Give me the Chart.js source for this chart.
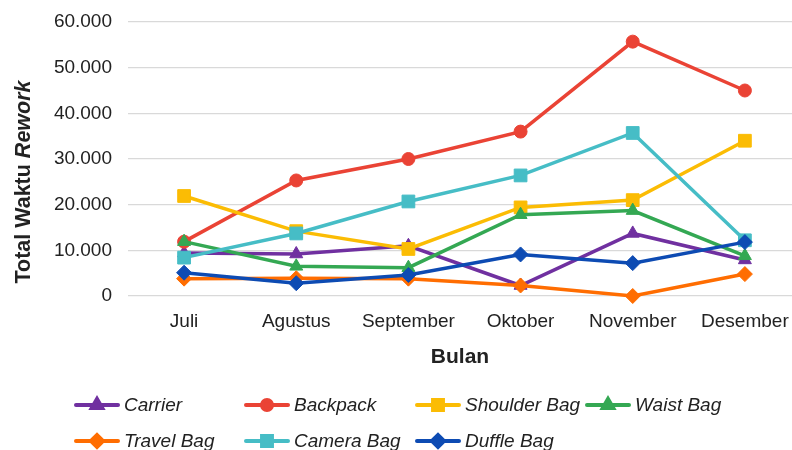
<!DOCTYPE html>
<html>
<head>
<meta charset="utf-8">
<script src="https://cdn.jsdelivr.net/npm/chart.js@4/dist/chart.umd.min.js"></script>
<style>
  html, body { margin: 0; padding: 0; background: #fff; overflow: hidden; }
</style>
</head>
<body>
<canvas id="rework" width="792" height="450"></canvas>
<script>
const bulan = ['Juli', 'Agustus', 'September', 'Oktober', 'November', 'Desember'];

const carrier = [9400, 9200, 11000, 2300, 13700, 7900];
const backpack = [11900, 25300, 30000, 36000, 55700, 45000];
const shoulderBag = [21900, 14200, 10300, 19400, 21000, 34000];
const waistBag = [11900, 6500, 6200, 17800, 18700, 8800];
const travelBag = [3800, 3900, 3800, 2300, 0, 4800];
const cameraBag = [8400, 13700, 20700, 26400, 35700, 12200];
const duffleBag = [5100, 2800, 4600, 9100, 7200, 11800];

const seriesNames = ['Carrier', 'Backpack', 'Shoulder Bag', 'Waist Bag', 'Travel Bag', 'Camera Bag', 'Duffle Bag'];
const seriesValues = [carrier, backpack, shoulderBag, waistBag, travelBag, cameraBag, duffleBag];
const yTicks = [0, 10000, 20000, 30000, 40000, 50000, 60000];

const colors = ['#7030a0', '#ea4335', '#fbbc04', '#34a853', '#ff6d01', '#46bdc6', '#0d4bb3'];
const markers = ['triangle', 'circle', 'rect', 'triangle', 'rectRot', 'rect', 'rectRot'];
const markerSize = { triangle: 7.5, circle: 6.5, rect: 9, rectRot: 7.5 };
const legendSize = { triangle: 6, circle: 5, rect: 7, rectRot: 6 };

const FONT = '"Liberation Sans", Arial, sans-serif';
const TEXT = '#222';

function titik(n) {
  return String(n).replace(/\B(?=(\d{3})+(?!\d))/g, '.');
}

const datasets = seriesNames.map((name, i) => ({
  label: name,
  data: seriesValues[i].map((v, j) => ({ x: j, y: v })),
  borderColor: colors[i],
  backgroundColor: colors[i],
  borderWidth: 3.5,
  pointStyle: markers[i],
  pointRadius: markerSize[markers[i]],
  pointBorderWidth: 1,
  pointBackgroundColor: colors[i],
  pointBorderColor: colors[i],
  tension: 0,
  clip: false,
  order: 20 - i,
}));

// y title with italic "Rework"
const yTitle = {
  id: 'yTitle',
  afterDraw(chart) {
    const ctx = chart.ctx;
    const part1 = 'Total Waktu ';
    const part2 = 'Rework';
    ctx.save();
    ctx.translate(24, 182);
    ctx.rotate(-Math.PI / 2);
    ctx.fillStyle = TEXT;
    ctx.textBaseline = 'middle';
    ctx.font = 'bold 21.5px ' + FONT;
    const w1 = ctx.measureText(part1).width;
    ctx.font = 'italic bold 21.5px ' + FONT;
    const w2 = ctx.measureText(part2).width;
    let x = -(w1 + w2) / 2;
    ctx.font = 'bold 21.5px ' + FONT;
    ctx.textAlign = 'left';
    ctx.fillText(part1, x, 0);
    ctx.font = 'italic bold 21.5px ' + FONT;
    ctx.fillText(part2, x + w1, 0);
    ctx.restore();
  }
};

// legend laid out in columns like the original
const legendCols = [74, 244, 415, 585];
const legendRows = [405, 441];
const gridLegend = {
  id: 'gridLegend',
  afterDraw(chart) {
    const ctx = chart.ctx;
    chart.data.datasets.forEach((ds, i) => {
      const x = legendCols[i % 4];
      const y = legendRows[Math.floor(i / 4)];
      ctx.save();
      ctx.strokeStyle = ds.borderColor;
      ctx.fillStyle = ds.borderColor;
      ctx.lineWidth = 4;
      ctx.lineCap = 'round';
      ctx.beginPath();
      ctx.moveTo(x + 2, y);
      ctx.lineTo(x + 44, y);
      ctx.stroke();
      Chart.helpers.drawPoint(ctx, {
        pointStyle: ds.pointStyle,
        radius: legendSize[ds.pointStyle],
        borderWidth: 1,
        rotation: 0
      }, x + 23, y);
      ctx.fillStyle = TEXT;
      ctx.font = 'italic 19px ' + FONT;
      ctx.textBaseline = 'middle';
      ctx.textAlign = 'left';
      ctx.fillText(ds.label, x + 50, y + 1);
      ctx.restore();
    });
  }
};

new Chart(document.getElementById('rework'), {
  type: 'line',
  data: { datasets: datasets },
  options: {
    responsive: false,
    animation: false,
    layout: { autoPadding: false, padding: { top: 22, left: 0, right: 0, bottom: 65 } },
    plugins: {
      legend: { display: false },
      tooltip: { enabled: false },
    },
    scales: {
      x: {
        type: 'linear',
        min: -0.5,
        max: 5.42,
        afterBuildTicks: (scale) => { scale.ticks = bulan.map((_, i) => ({ value: i })); },
        afterFit: (scale) => {
          scale.height = 89;
          scale.paddingLeft = 0;
          scale.paddingRight = 0;
        },
        grid: { display: false, drawTicks: false },
        border: { display: false },
        ticks: {
          padding: 14,
          color: TEXT,
          font: { family: FONT, size: 19 },
          maxRotation: 0,
          autoSkip: false,
          callback: (v) => bulan[v],
        },
        title: {
          display: true,
          text: 'Bulan',
          color: TEXT,
          font: { family: FONT, size: 21, weight: 'bold' },
          padding: { top: 0, bottom: 15 },
        },
      },
      y: {
        min: 0,
        max: 60000,
        afterBuildTicks: (scale) => { scale.ticks = yTicks.map((v) => ({ value: v })); },
        afterFit: (scale) => {
          scale.width = 128;
          scale.paddingTop = 0;
          scale.paddingBottom = 0;
        },
        grid: { color: '#d9d9d9', lineWidth: 1.3, drawTicks: false },
        border: { display: false },
        ticks: {
          padding: 16,
          color: TEXT,
          font: { family: FONT, size: 19 },
          callback: (v) => titik(v),
        },
      },
    },
  },
  plugins: [yTitle, gridLegend],
});
</script>
</body>
</html>
